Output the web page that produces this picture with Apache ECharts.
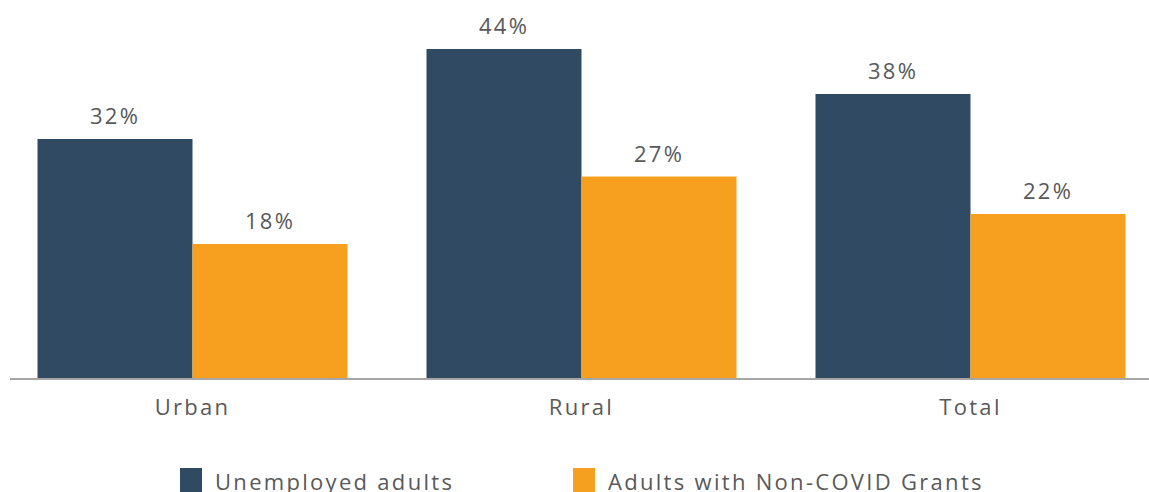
<!DOCTYPE html>
<html>
<head>
<meta charset="utf-8">
<script src="https://cdn.jsdelivr.net/npm/echarts@6/dist/echarts.min.js"></script>
<style>
  html, body { margin: 0; padding: 0; background: #fff; }
  #chart { width: 1149px; height: 492px; letter-spacing: 2.3px; }
</style>
</head>
<body>
<div id="chart"></div>
<script>
const categories = ['Urban', 'Rural', 'Total'];
const unemployedAdults = [32, 44, 38];
const nonCovidGrants = [18, 27, 22];
const seriesNames = ['Unemployed adults', 'Adults with Non-COVID Grants'];

const FONT = "'Open Sans', 'Noto Sans', sans-serif";
const TEXT = '#595959';

const chart = echarts.init(document.getElementById('chart'), null, { renderer: 'svg' });

const label = {
  show: true,
  position: 'top',
  distance: 13,
  formatter: p => p.value + '%',
  color: TEXT,
  fontFamily: FONT,
  fontSize: 22
};

const legendBase = {
  top: 468,
  padding: 0,
  itemWidth: 22,
  itemHeight: 25,
  icon: 'rect',
  textStyle: { color: TEXT, fontFamily: FONT, fontSize: 22, padding: [0, 0, 0, 8] }
};

chart.setOption({
  animation: false,
  grid: { left: -2, width: 1167, top: 4, bottom: 113, containLabel: false, outerBoundsMode: 'none' },
  legend: [
    Object.assign({ left: 180, data: [seriesNames[0]] }, legendBase),
    Object.assign({ left: 573, data: [seriesNames[1]] }, legendBase)
  ],
  xAxis: {
    type: 'category',
    data: categories,
    axisLine: { show: false },
    axisTick: { show: false },
    axisLabel: { color: TEXT, fontFamily: FONT, fontSize: 22, margin: 16 }
  },
  yAxis: {
    type: 'value',
    min: 0,
    max: 50,
    show: false,
    splitLine: { show: false }
  },
  graphic: [{
    type: 'line',
    shape: { x1: 10, y1: 379, x2: 1149, y2: 379 },
    style: { stroke: '#A6A6A6', lineWidth: 2 },
    z: 10
  }],
  series: [
    {
      name: seriesNames[0],
      type: 'bar',
      data: unemployedAdults,
      barWidth: 155,
      barGap: '0%',
      itemStyle: { color: '#2F4A62' },
      label: label
    },
    {
      name: seriesNames[1],
      type: 'bar',
      data: nonCovidGrants,
      barWidth: 155,
      barGap: '0%',
      itemStyle: { color: '#F79F1F' },
      label: label
    }
  ]
});
</script>
</body>
</html>
